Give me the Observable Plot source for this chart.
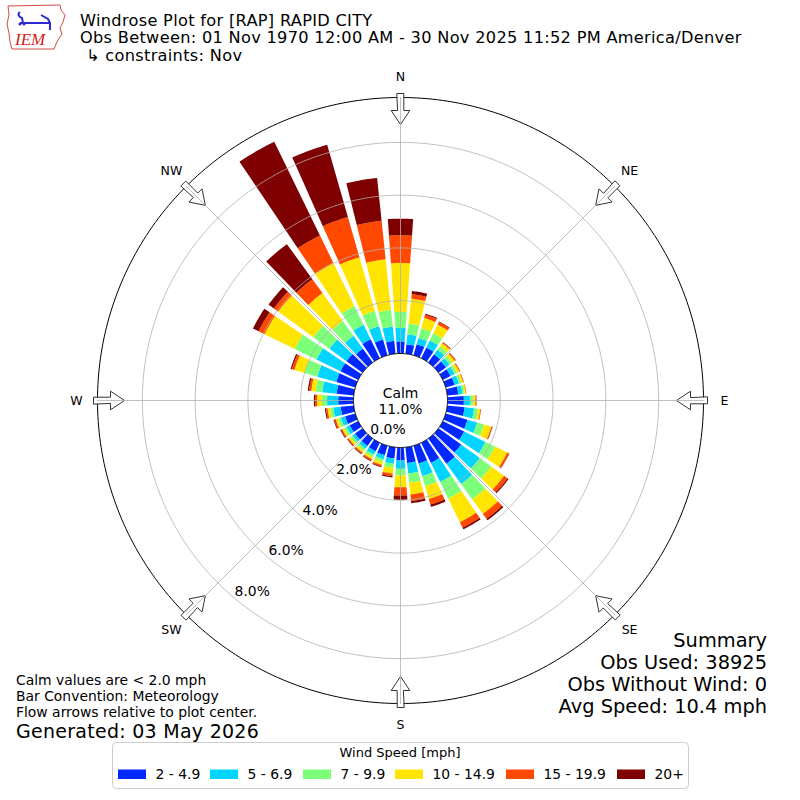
<!DOCTYPE html>
<html><head><meta charset="utf-8">
<script src="https://cdn.jsdelivr.net/npm/d3@7"></script>
<script src="https://cdn.jsdelivr.net/npm/@observablehq/plot@0.6"></script>
<style>
html,body{margin:0;padding:0;background:#fff;}
#wrap{position:relative;width:800px;height:800px;overflow:hidden;font-family:"DejaVu Sans",sans-serif;}
#chart{position:absolute;left:0;top:0;}
#overlay{position:absolute;left:0;top:0;pointer-events:none;}
</style></head>
<body>
<div id="wrap">
  <div id="chart"></div>
  <svg id="overlay" width="800" height="800" xmlns="http://www.w3.org/2000/svg" font-family="DejaVu Sans, sans-serif">
    <!-- logo -->
    <g>
      <path d="M8,6 L60,5 L61,10 L65,15 L63,22 L60,28 L62,34 L58,40 L56,44 L54,49 L12,49 L10,42 L9,33 L7,24 L9,15 Z" fill="none" stroke="#d84a4a" stroke-width="1"/>
      <path d="M20,12 C17,14 19,17 22,18 L23,23 M20,23 L50,23 M41,15 L48,19 L50,23 L50,30" fill="none" stroke="#2a2ad0" stroke-width="2"/>
      <circle cx="20" cy="24" r="1.5" fill="#2a2ad0"/><circle cx="24" cy="24" r="1.5" fill="#2a2ad0"/>
      <text x="15" y="45" font-family="Liberation Serif, serif" font-style="italic" font-size="17" fill="#d02020">IEM</text>
    </g>
    <g id="texts"></g>
  </svg>
</div>
<script>
// ---------------- data ----------------
const directions = [0,10,20,30,40,50,60,70,80,90,100,110,120,130,140,150,160,170,
                    180,190,200,210,220,230,240,250,260,270,280,290,300,310,320,330,340,350];
const speedBins = ["2 - 4.9","5 - 6.9","7 - 9.9","10 - 14.9","15 - 19.9","20+"];
const speedColors = ["#0028ff","#00d4ff","#7cff79","#ffe500","#ff4800","#7f0000"];
// percent of observations per direction, per speed bin
const pct2to5   = [.46,.36,.44,.45,.38,.35,.33,.35,.42,.62,.66,.86,.90,1.06,1.18,.85,.70,.60,
                   .49,.43,.38,.36,.35,.35,.36,.40,.50,.58,.65,.75,.75,.75,.65,.80,.62,.49];
const pct5to7   = [.51,.38,.24,.30,.22,.17,.17,.17,.16,.23,.36,.38,.90,.87,.95,.80,.50,.40,
                   .32,.20,.15,.14,.13,.12,.14,.17,.28,.42,.55,.75,1.01,.80,.60,.61,.53,.54];
const pct7to10  = [.61,.41,.39,.30,.16,.12,.10,.10,.08,.13,.15,.27,.40,.54,.72,.70,.40,.35,
                   .25,.15,.11,.10,.10,.10,.10,.11,.12,.20,.25,.50,.92,.75,.69,.79,.60,.64];
const pct10to15 = [1.85,.95,.40,.37,.15,.12,.10,.07,.05,.08,.09,.29,.52,.60,.68,1.00,.50,.45,
                   .45,.22,.12,.09,.08,.08,.08,.09,.10,.18,.17,.40,1.27,1.65,1.31,1.82,2.11,1.93];
const pct15to20 = [1.05,.17,.13,.11,.04,.05,.03,.03,.02,.03,.03,.04,.08,.16,.23,.23,.22,.25,
                   .31,.10,.06,.06,.05,.05,.05,.06,.06,.08,.08,.10,.25,.20,.65,1.16,1.59,1.47];
const pct20plus = [.63,.12,.04,.02,.01,.01,.01,.00,.00,.01,.00,.01,.01,.05,.07,.07,.09,.08,
                   .16,.05,.03,.03,.03,.02,.03,.03,.04,.04,.05,.05,.24,.25,1.64,3.95,2.85,1.63];
const calmPct = 11.0;
const ringTicks = [0, 2, 4, 6, 8];
const compass = [["N",0],["NE",45],["E",90],["SE",135],["S",180],["SW",225],["W",270],["NW",315]];
const radialMax = 9.7;   // percent at outer circle

// ---------------- geometry helpers ----------------
const rInner = 47, rOuter = 303;   // pixel radii of calm circle and outer circle
const R = d3.scaleLinear().domain([0, radialMax]).range([rInner, rOuter]);
const rad = a => a * Math.PI / 180;
const pt = (r, a) => [r * Math.sin(rad(a)), -r * Math.cos(rad(a))];
function arc(r, a0, a1, n) { const out = []; for (let k = 0; k <= n; k++) out.push(pt(r, a0 + (a1 - a0) * k / n)); return out; }
const halfW = 4;

const series = [pct2to5, pct5to7, pct7to10, pct10to15, pct15to20, pct20plus];
const wedges = [];
directions.forEach((dir, i) => {
  let cum = 0;
  speedBins.forEach((bin, j) => {
    const v = series[j][i];
    if (v > 0) {
      const outer = arc(R(cum + v), dir - halfW, dir + halfW, 10);
      const inner = arc(R(cum), dir + halfW, dir - halfW, 10);
      wedges.push({type: "Feature", properties: {bin, dir},
        geometry: {type: "Polygon", coordinates: [[...outer, ...inner, outer[0]]]}});
    }
    cum += v;
  });
});
const circle = r => ({type: "LineString", coordinates: arc(r, 0, 360, 360)});
const gridCircles = ringTicks.filter(p => p > 0).map(p => circle(R(p)));
const outerCircle = circle(R(radialMax));
const calmDisk = {type: "Polygon", coordinates: [arc(rInner, 0, 360, 360)]};
const radialLines = compass.map(([, a]) => ({type: "LineString", coordinates: [[0, 0], pt(R(radialMax), a)]}));
// hollow flow arrows pointing toward centre
function arrow(a) {
  const loc = [[307,-3.3],[307,3.3],[290,3.3],[290,9.3],[276,0],[290,-9.3],[290,-3.3],[307,-3.3]];
  const s = Math.sin(rad(a)), c = Math.cos(rad(a));
  return {type: "Polygon", coordinates: [loc.map(([u, v]) => [u * s + v * c, -(u * c - v * s)])]};
}
const arrows = compass.map(([, a]) => arrow(a));
const frameDomain = {type: "Polygon", coordinates: [[[-rOuter,-rOuter],[rOuter,-rOuter],[rOuter,rOuter],[-rOuter,rOuter],[-rOuter,-rOuter]]]};

const chart = Plot.plot({
  width: 800, height: 800, margin: 97,
  projection: {type: "identity", domain: frameDomain, clip: false, inset: 0},
  color: {type: "ordinal", domain: speedBins, range: speedColors},
  style: {fontFamily: "DejaVu Sans, sans-serif", background: "white", color: "black"},
  marks: [
    Plot.geo(wedges, {fill: d => d.properties.bin}),
    Plot.geo(gridCircles, {stroke: "#b0b0b0", strokeWidth: 0.8}),
    Plot.geo([outerCircle], {stroke: "black", strokeWidth: 1}),
    Plot.geo(arrows, {fill: "white", stroke: "#333", strokeWidth: 1}),
    Plot.geo(radialLines, {stroke: "#b0b0b0", strokeWidth: 0.8}),
    Plot.geo([calmDisk], {fill: "white", stroke: "black", strokeWidth: 1}),
    Plot.text(ringTicks, {x: p => pt(R(p), 220)[0], y: p => pt(R(p), 220)[1],
      text: p => p.toFixed(1) + "%", textAnchor: "start", dy: -7, fontSize: 13.9, fill: "black"}),
    Plot.text([calmPct], {x: 0, y: 0, text: p => "Calm\n" + p.toFixed(1) + "%",
      lineHeight: 1.15, fontSize: 13.9, fill: "black"}),
    Plot.text(compass, {x: d => pt(324, d[1])[0], y: d => pt(324, d[1])[1], text: d => d[0],
      fontSize: 12.5, fill: "black"})
  ]
});
document.getElementById("chart").append(chart);

// ---------------- annotations ----------------
const titleLines = ["Windrose Plot for [RAP] RAPID CITY",
  "Obs Between: 01 Nov 1970 12:00 AM - 30 Nov 2025 11:52 PM America/Denver"];
const constraintLine = "↳ constraints: Nov";
const notes = ["Calm values are < 2.0 mph", "Bar Convention: Meteorology", "Flow arrows relative to plot center."];
const generated = "Generated: 03 May 2026";
const summary = ["Summary", "Obs Used: 38925", "Obs Without Wind: 0", "Avg Speed: 10.4 mph"];
const legendTitle = "Wind Speed [mph]";

const g = d3.select("#texts");
titleLines.forEach((t, i) => g.append("text").attr("x", 80).attr("y", 25.5 + i * 17.7)
  .attr("font-size", 16.2).attr("letter-spacing", 0.3).text(t));
g.append("text").attr("x", 86).attr("y", 60.9).attr("font-size", 16.2).attr("letter-spacing", 0.3).text(constraintLine);
notes.forEach((t, i) => g.append("text").attr("x", 16).attr("y", 684.5 + i * 16.3).attr("font-size", 13.9).text(t));
g.append("text").attr("x", 16).attr("y", 737.5).attr("font-size", 19).attr("letter-spacing", 0.27).text(generated);
summary.forEach((t, i) => g.append("text").attr("x", 767).attr("y", 647 + i * 22).attr("text-anchor", "end").attr("font-size", 19.4).text(t));
// legend
g.append("rect").attr("x", 112.5).attr("y", 742.5).attr("width", 576).attr("height", 46).attr("rx", 4)
  .attr("fill", "white").attr("fill-opacity", 0.8).attr("stroke", "#cccccc");
g.append("text").attr("x", 400).attr("y", 757).attr("text-anchor", "middle").attr("font-size", 13).text(legendTitle);
const swX = [118, 210, 303, 395, 506, 617];
speedBins.forEach((b, i) => {
  g.append("rect").attr("x", swX[i]).attr("y", 769.5).attr("width", 28).attr("height", 9.5).attr("fill", speedColors[i]);
  g.append("text").attr("x", swX[i] + 37.5).attr("y", 779).attr("font-size", 13.9).text(b);
});
</script>
</body></html>
